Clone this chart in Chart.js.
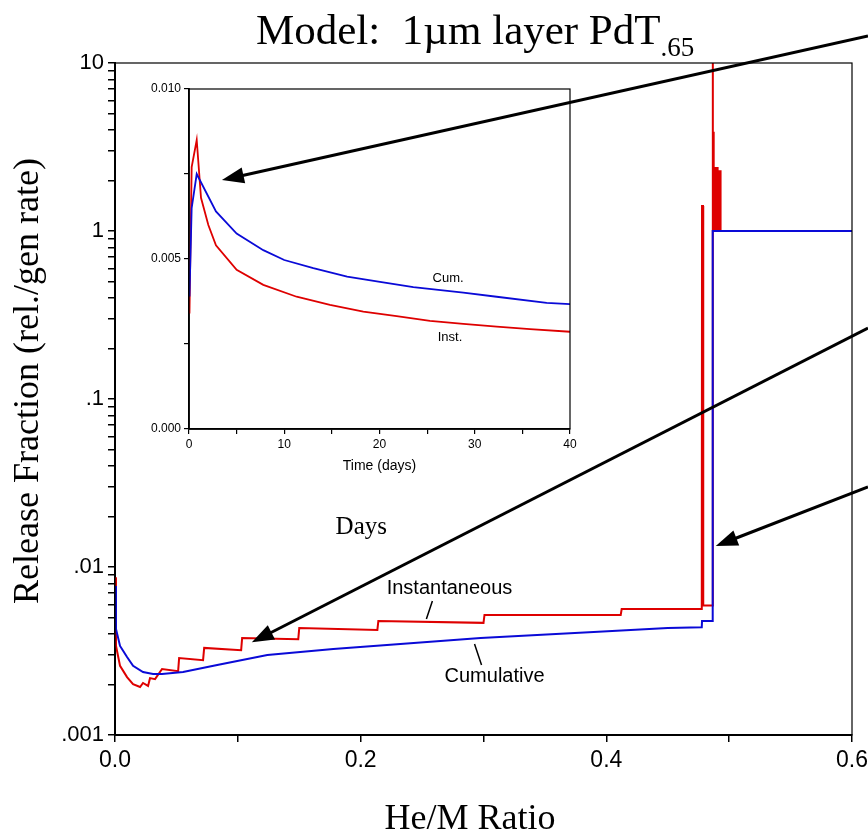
<!DOCTYPE html>
<html>
<head>
<meta charset="utf-8">
<script src="https://cdn.jsdelivr.net/npm/chart.js@4.4.1/dist/chart.umd.min.js"></script>
<style>
  html, body { margin: 0; padding: 0; background: #fff; }
  #wrap { position: relative; width: 868px; height: 838px; overflow: hidden; }
  #mainChart { position: absolute; left: 0; top: 0; }
  #insetChart { position: absolute; left: 120px; top: 80px; }
  #arrows { position: absolute; left: 0; top: 0; pointer-events: none; }
  #title {
    position: absolute; left: 256px; top: 8px; white-space: nowrap;
    font-family: "Liberation Serif", "Times New Roman", serif; font-size: 43px; line-height: 1; color: #000;
  }
  #title sub { font-size: 27px; vertical-align: -12px; line-height: 1; }
</style>
</head>
<body>
<div id="wrap">
  <canvas id="mainChart" width="868" height="838"></canvas>
  <canvas id="insetChart" width="480" height="400"></canvas>
  <canvas id="arrows" width="868" height="838"></canvas>
  <div id="title">Model:&nbsp; 1µm layer PdT<sub>.65</sub></div>
</div>
<script>
// main plot: release fraction vs He/M ratio (log y)
const instX = [0, 0.0008, 0.0041, 0.0098, 0.0147, 0.0204, 0.0228, 0.0269, 0.0285, 0.0326, 0.0383, 0.0514, 0.0522,
  0.0717, 0.0726, 0.1027, 0.1035, 0.1492, 0.1500, 0.2136, 0.2144, 0.3000, 0.3008, 0.4117, 0.4125, 0.4777,
  0.4779, 0.4787, 0.4789, 0.4864,
  0.4866, 0.4868, 0.4870, 0.4872, 0.4874, 0.4876, 0.4878, 0.4880, 0.4882, 0.4884, 0.4886, 0.4888, 0.4890,
  0.4892, 0.4894, 0.4896, 0.4898, 0.4900, 0.4902, 0.4904, 0.4906, 0.4908, 0.4910, 0.4912, 0.4914, 0.4916,
  0.4918, 0.4920, 0.4922, 0.4924, 0.4926, 0.4928, 0.4930, 0.4932, 0.6];
const instY = [0.0087, 0.0034, 0.00258, 0.00221, 0.00201, 0.00193, 0.00204, 0.00196, 0.00218, 0.00215, 0.00247, 0.00240, 0.00287,
  0.00279, 0.00330, 0.00320, 0.00378, 0.00372, 0.00433, 0.00422, 0.00477, 0.00465, 0.00518, 0.00518, 0.00562, 0.00562,
  1.41, 1.41, 0.0059, 0.0059,
  10, 1.0, 3.9, 1.0, 2.4, 1.0, 2.4, 1.0, 2.4, 1.0, 2.4, 1.0, 2.4,
  1.0, 2.4, 1.0, 2.4, 1.0, 2.4, 1.0, 2.4, 1.0, 2.3, 1.0, 2.3, 1.0,
  2.3, 1.0, 2.3, 1.0, 2.3, 1.0, 2.2, 1.0, 1.0];
const cumX = [0, 0.0008, 0.0041, 0.0098, 0.0147, 0.0228, 0.0310, 0.0383, 0.0554, 0.0832, 0.1240, 0.1777, 0.2323,
  0.2976, 0.3897, 0.4500, 0.4777, 0.4779, 0.4864, 0.4866, 0.6];
const cumY = [0.0077, 0.00428, 0.00339, 0.00291, 0.00258, 0.00237, 0.00231, 0.00231, 0.00237, 0.00261, 0.00299, 0.00325, 0.00348,
  0.00378, 0.00410, 0.00433, 0.00438, 0.00477, 0.00477, 1.0, 1.0];
const xTickLabels = ['0.0', '0.2', '0.4', '0.6'];
const yTickLabels = ['.001', '.01', '.1', '1', '10'];

// inset: release fraction vs time (days)
const insetInstDays = [0.05, 0.28, 0.81, 1.26, 2.03, 2.83, 5.0, 7.8, 11.3, 14.8, 18.3, 21.8, 25.3, 28.8, 32.3, 35.8, 40];
const insetInst = [0.0034, 0.0077, 0.0085, 0.0068, 0.0060, 0.0054, 0.00468, 0.00424, 0.00389, 0.00365, 0.00345, 0.00332,
  0.00318, 0.00309, 0.00301, 0.00294, 0.00286];
const insetCumDays = [0.05, 0.28, 0.81, 2.83, 5.0, 7.8, 10.0, 13.05, 16.6, 20.05, 23.55, 28.8, 32.3, 37.55, 40];
const insetCum = [0.0039, 0.0065, 0.0075, 0.0064, 0.00575, 0.00526, 0.00497, 0.00473, 0.00448, 0.00433, 0.00417,
  0.00401, 0.00389, 0.00371, 0.00367];
const insetXLabels = ['0', '10', '20', '30', '40'];
const insetYLabels = ['0.000', '0.005', '0.010'];

const RED = 'rgb(222,0,0)';
const BLUE = 'rgb(10,10,215)';
const SERIF = '"Liberation Serif", "Times New Roman", serif';
const SANS = '"Liberation Sans", Arial, sans-serif';

const toPoints = (xs, ys) => xs.map((x, i) => ({ x: x, y: ys[i] }));

// frame + text notes on the main plot
const mainNotes = {
  id: 'mainNotes',
  afterDatasetsDraw(chart) {
    const { ctx, chartArea: a, scales: { x, y } } = chart;
    ctx.save();
    ctx.strokeStyle = '#000';
    ctx.lineWidth = 1.2;
    ctx.strokeRect(a.left, a.top, a.right - a.left, a.bottom - a.top);

    ctx.fillStyle = '#000';
    ctx.textAlign = 'center';
    ctx.textBaseline = 'middle';
    ctx.font = '25px ' + SERIF;
    ctx.fillText('Days', x.getPixelForValue(0.2005), y.getPixelForValue(0.0172));

    ctx.font = '20px ' + SANS;
    ctx.fillText('Instantaneous', x.getPixelForValue(0.2723), y.getPixelForValue(0.0074));
    ctx.fillText('Cumulative', x.getPixelForValue(0.309), y.getPixelForValue(0.00222));

    ctx.lineWidth = 1.5;
    ctx.beginPath();
    ctx.moveTo(x.getPixelForValue(0.2584), y.getPixelForValue(0.00628));
    ctx.lineTo(x.getPixelForValue(0.2535), y.getPixelForValue(0.0049));
    ctx.moveTo(x.getPixelForValue(0.2927), y.getPixelForValue(0.00348));
    ctx.lineTo(x.getPixelForValue(0.2984), y.getPixelForValue(0.00261));
    ctx.stroke();
    ctx.restore();
  }
};

const insetNotes = {
  id: 'insetNotes',
  afterDatasetsDraw(chart) {
    const { ctx, chartArea: a, scales: { x, y } } = chart;
    ctx.save();
    ctx.strokeStyle = '#000';
    ctx.lineWidth = 1.2;
    ctx.strokeRect(a.left, a.top, a.right - a.left, a.bottom - a.top);
    ctx.fillStyle = '#000';
    ctx.textAlign = 'center';
    ctx.textBaseline = 'middle';
    ctx.font = '13px ' + SANS;
    ctx.fillText('Cum.', x.getPixelForValue(27.2), y.getPixelForValue(0.00444));
    ctx.fillText('Inst.', x.getPixelForValue(27.4), y.getPixelForValue(0.0027));
    ctx.restore();
  }
};

const mainChart = new Chart(document.getElementById('mainChart'), {
  type: 'line',
  data: {
    datasets: [
      { label: 'Cumulative', data: toPoints(cumX, cumY), borderColor: BLUE, borderWidth: 2, pointRadius: 0, tension: 0 },
      { label: 'Instantaneous', data: toPoints(instX, instY), borderColor: RED, borderWidth: 2, pointRadius: 0, tension: 0 }
    ]
  },
  options: {
    responsive: false,
    animation: false,
    layout: { padding: { left: 0, top: 63, right: 16, bottom: 0 } },
    plugins: { legend: { display: false }, tooltip: { enabled: false } },
    scales: {
      x: {
        type: 'linear', min: 0, max: 0.6,
        border: { display: true, color: '#000', width: 2 },
        grid: { drawOnChartArea: false, drawTicks: true, tickLength: 7, color: '#000', lineWidth: 1.5 },
        ticks: {
          stepSize: 0.1, autoSkip: false, maxRotation: 0, padding: 5, color: '#000',
          font: { family: SANS, size: 23 },
          callback: (v, i) => (i % 2 === 0 ? xTickLabels[i / 2] : '')
        },
        // trailing spaces nudge the centred title a little to the left, as in the source
        title: { display: true, text: 'He/M Ratio   ', color: '#000', font: { family: SERIF, size: 36, lineHeight: 1 }, padding: { top: 0, bottom: 0 } },
        afterFit: (s) => { s.height = 103; s.paddingLeft = 0; s.paddingRight = 0; }
      },
      y: {
        type: 'logarithmic', min: 0.001, max: 10,
        border: { display: true, color: '#000', width: 2 },
        grid: { drawOnChartArea: false, drawTicks: true, tickLength: 7, color: '#000', lineWidth: 1.5 },
        afterBuildTicks: (s) => {
          const t = [];
          for (let e = -3; e < 1; e++) for (let m = 1; m < 10; m++) t.push({ value: m * Math.pow(10, e) });
          t.push({ value: 10 });
          s.ticks = t;
        },
        ticks: {
          autoSkip: false, padding: 4, color: '#000',
          font: { family: SANS, size: 22 },
          callback: (v) => {
            const e = Math.log10(v);
            return Math.abs(e - Math.round(e)) < 1e-6 ? yTickLabels[Math.round(e) + 3] : '';
          }
        },
        // leading spaces lift the centred title up, as in the source
        title: { display: true, text: '    Release Fraction (rel./gen rate)', color: '#000', font: { family: SERIF, size: 36, lineHeight: 1 }, padding: { top: 11, bottom: 0 } },
        afterFit: (s) => { s.width = 115; s.paddingTop = 0; s.paddingBottom = 0; }
      }
    }
  },
  plugins: [mainNotes]
});

const insetChart = new Chart(document.getElementById('insetChart'), {
  type: 'line',
  data: {
    datasets: [
      { label: 'Cum.', data: toPoints(insetCumDays, insetCum), borderColor: BLUE, borderWidth: 1.8, pointRadius: 0, tension: 0 },
      { label: 'Inst.', data: toPoints(insetInstDays, insetInst), borderColor: RED, borderWidth: 1.8, pointRadius: 0, tension: 0 }
    ]
  },
  options: {
    responsive: false,
    animation: false,
    layout: { padding: { left: 0, top: 9, right: 30, bottom: 0 } },
    plugins: { legend: { display: false }, tooltip: { enabled: false } },
    scales: {
      x: {
        type: 'linear', min: 0, max: 40,
        border: { display: true, color: '#000', width: 1.8 },
        grid: { drawOnChartArea: false, drawTicks: true, tickLength: 5, color: '#000', lineWidth: 1.2 },
        ticks: {
          stepSize: 5, autoSkip: false, maxRotation: 0, padding: 3, color: '#000',
          font: { family: SANS, size: 12 },
          callback: (v, i) => (i % 2 === 0 ? insetXLabels[i / 2] : '')
        },
        title: { display: true, text: 'Time (days)', color: '#000', font: { family: SANS, size: 14, lineHeight: 1 }, padding: { top: 0, bottom: 7 } },
        afterFit: (s) => { s.height = 51; s.paddingLeft = 0; s.paddingRight = 0; }
      },
      y: {
        type: 'linear', min: 0, max: 0.01,
        border: { display: true, color: '#000', width: 1.8 },
        grid: { drawOnChartArea: false, drawTicks: true, tickLength: 5, color: '#000', lineWidth: 1.2 },
        ticks: {
          stepSize: 0.0025, autoSkip: false, padding: 3, color: '#000',
          font: { family: SANS, size: 12 },
          callback: (v, i) => (i % 2 === 0 ? insetYLabels[i / 2] : '')
        },
        afterFit: (s) => { s.width = 69; s.paddingTop = 0; s.paddingBottom = 0; }
      }
    }
  },
  plugins: [insetNotes]
});

// callout arrows: tails run off the right edge, heads point at data locations
const arrowNotes = [
  { chart: insetChart, left: 120, top: 80, x: 3.46, y: 0.00732, fromX: 868, fromY: 36 },
  { chart: mainChart, left: 0, top: 0, x: 0.1114, y: 0.00356, fromX: 868, fromY: 328 },
  { chart: mainChart, left: 0, top: 0, x: 0.4891, y: 0.01334, fromX: 868, fromY: 487 }
];

function drawArrow(ctx, x0, y0, x1, y1) {
  const ang = Math.atan2(y1 - y0, x1 - x0);
  const head = 22, half = 8;
  const bx = x1 - head * Math.cos(ang), by = y1 - head * Math.sin(ang);
  ctx.lineWidth = 3;
  ctx.beginPath();
  ctx.moveTo(x0, y0);
  ctx.lineTo(bx + 2 * Math.cos(ang), by + 2 * Math.sin(ang));
  ctx.stroke();
  ctx.beginPath();
  ctx.moveTo(x1, y1);
  ctx.lineTo(bx + half * Math.sin(ang), by - half * Math.cos(ang));
  ctx.lineTo(bx - half * Math.sin(ang), by + half * Math.cos(ang));
  ctx.closePath();
  ctx.fill();
}

const actx = document.getElementById('arrows').getContext('2d');
actx.strokeStyle = '#000';
actx.fillStyle = '#000';
arrowNotes.forEach(a => {
  const px = a.left + a.chart.scales.x.getPixelForValue(a.x);
  const py = a.top + a.chart.scales.y.getPixelForValue(a.y);
  drawArrow(actx, a.fromX, a.fromY, px, py);
});
</script>
</body>
</html>
